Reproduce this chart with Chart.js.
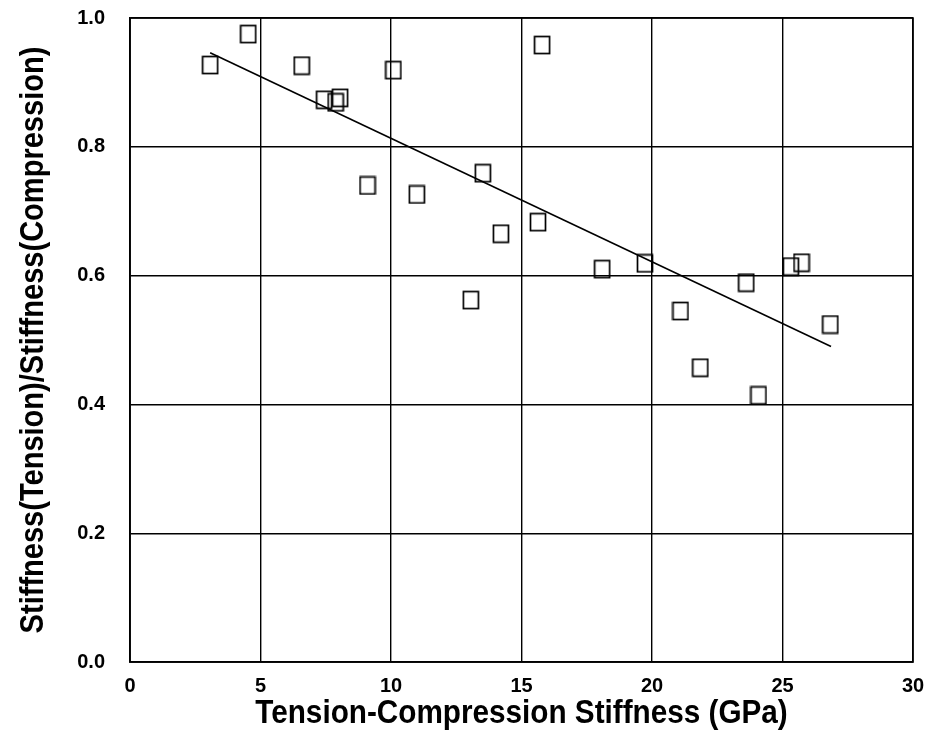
<!DOCTYPE html>
<html>
<head>
<meta charset="utf-8">
<script src="https://cdn.jsdelivr.net/npm/chart.js@4.4.1/dist/chart.umd.min.js"></script>
<style>
  html, body { margin: 0; padding: 0; background: #fff; }
  #wrap { width: 933px; height: 738px; }
</style>
</head>
<body>
<div id="wrap"><canvas id="chart" width="933" height="738"></canvas></div>
<script>
// measured points: tension-compression stiffness (GPa) vs stiffness ratio
const stiffnessGPa = [3.07, 4.53, 6.58, 7.44, 7.88, 8.05, 9.10, 10.09, 10.99, 13.06, 13.52, 14.21,
                      15.63, 15.79, 18.09, 19.73, 21.09, 21.85, 23.61, 24.08, 25.32, 25.73, 26.83];
const stiffnessRatio = [0.927, 0.975, 0.926, 0.873, 0.869, 0.876, 0.740, 0.919, 0.726, 0.562, 0.759, 0.665,
                        0.683, 0.958, 0.610, 0.619, 0.545, 0.457, 0.589, 0.414, 0.614, 0.620, 0.524];

// least squares fit line, end points
const fitX = [3.07, 26.86];
const fitY = [0.946, 0.490];

const xTicks = [0, 5, 10, 15, 20, 25, 30];
const yTicks = [0.0, 0.2, 0.4, 0.6, 0.8, 1.0];

const xTitle = 'Tension-Compression Stiffness (GPa)';
const yTitle = 'Stiffness(Tension)/Stiffness(Compression)';

const FONT = "'Liberation Sans', Arial, sans-serif";

// open square marker, slightly taller than wide
function squareMarker() {
    const c = document.createElement('canvas');
    c.width = 18;
    c.height = 20;
    const g = c.getContext('2d');
    g.strokeStyle = '#000';
    g.lineWidth = 1.7;
    g.strokeRect(1.5, 1.5, 15, 17);
    return c;
}

const points = stiffnessGPa.map((x, i) => ({ x: x, y: stiffnessRatio[i] }));
const fitLine = fitX.map((x, i) => ({ x: x, y: fitY[i] }));

// axis titles drawn a bit condensed, like the narrow bold face of the original
const condensedTitles = {
    id: 'condensedTitles',
    afterDraw(chart) {
        const a = chart.chartArea;
        const ctx = chart.ctx;
        ctx.save();
        ctx.fillStyle = '#000';
        ctx.font = "bold 33px " + FONT;
        ctx.textAlign = 'center';
        ctx.textBaseline = 'alphabetic';

        ctx.save();
        ctx.translate((a.left + a.right) / 2, 723);
        ctx.scale(0.9, 1);
        ctx.fillText(xTitle, 0, 0);
        ctx.restore();

        ctx.save();
        ctx.translate(43, (a.top + a.bottom) / 2);
        ctx.rotate(-Math.PI / 2);
        ctx.scale(0.88, 1);
        ctx.fillText(yTitle, 0, 0);
        ctx.restore();

        // frame
        ctx.strokeStyle = '#000';
        ctx.lineWidth = 1.6;
        ctx.strokeRect(a.left, a.top, a.right - a.left, a.bottom - a.top);
        ctx.restore();
    }
};

new Chart(document.getElementById('chart'), {
    type: 'scatter',
    data: {
        datasets: [{
            data: points,
            pointStyle: squareMarker(),
            pointRadius: 9,
            pointHoverRadius: 9,
            borderColor: '#000',
            backgroundColor: 'rgba(0,0,0,0)'
        }, {
            type: 'line',
            data: fitLine,
            showLine: true,
            pointRadius: 0,
            borderColor: '#000',
            borderWidth: 1.6,
            fill: false
        }]
    },
    options: {
        responsive: false,
        animation: false,
        layout: { padding: { left: 0, right: 20, top: 18, bottom: 0 } },
        plugins: {
            legend: { display: false },
            tooltip: { enabled: false }
        },
        scales: {
            x: {
                type: 'linear',
                min: 0,
                max: 30,
                afterBuildTicks: scale => { scale.ticks = xTicks.map(v => ({ value: v })); },
                afterFit: scale => {
                    scale.height = 76;
                    scale.paddingLeft = 0;
                    scale.paddingRight = 0;
                },
                grid: { color: '#000', lineWidth: 1.4, drawTicks: false },
                border: { color: '#000', width: 1.6 },
                ticks: {
                    color: '#000',
                    padding: 12,
                    maxRotation: 0,
                    font: { family: FONT, size: 20, weight: 'bold' }
                }
            },
            y: {
                type: 'linear',
                min: 0,
                max: 1,
                afterBuildTicks: scale => { scale.ticks = yTicks.map(v => ({ value: v })); },
                afterFit: scale => {
                    scale.width = 130;
                    scale.paddingTop = 0;
                    scale.paddingBottom = 0;
                },
                grid: { color: '#000', lineWidth: 1.4, drawTicks: false },
                border: { color: '#000', width: 1.6 },
                ticks: {
                    color: '#000',
                    padding: 25,
                    callback: v => v.toFixed(1),
                    font: { family: FONT, size: 20, weight: 'bold' }
                }
            }
        }
    },
    plugins: [condensedTitles]
});
</script>
</body>
</html>
